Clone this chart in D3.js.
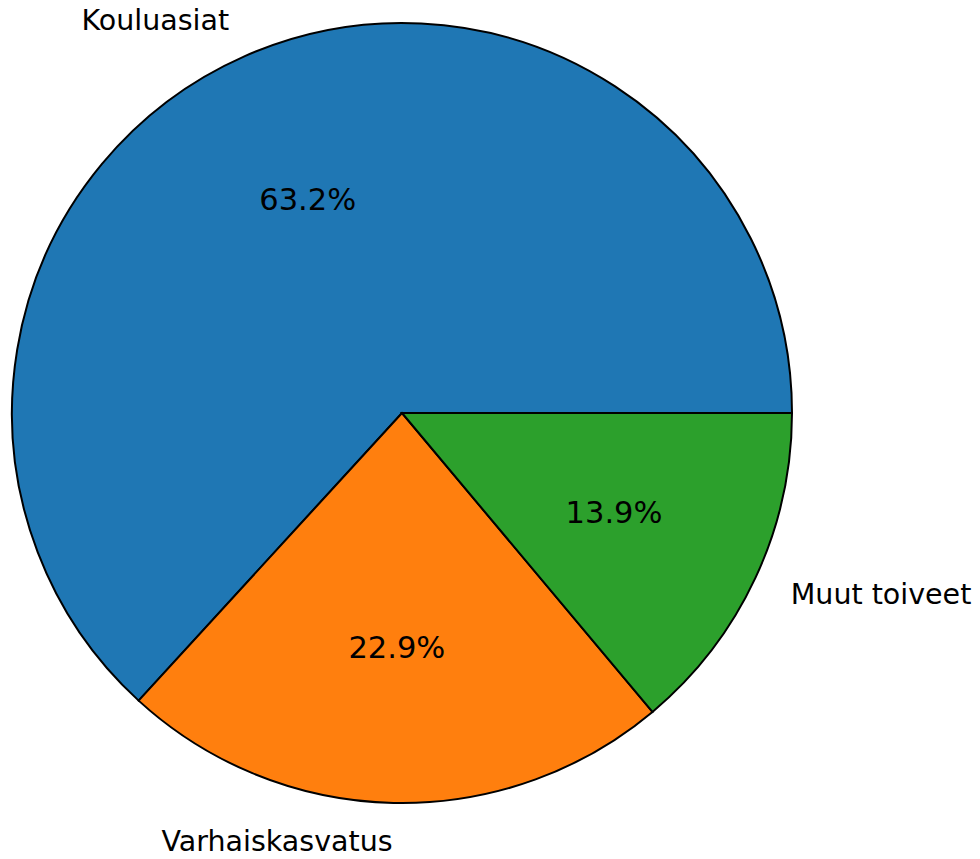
<!DOCTYPE html>
<html><head><meta charset="utf-8">
<script src="https://cdn.jsdelivr.net/npm/d3@7"></script>
<style>body{margin:0;background:#fff}svg{display:block}</style>
</head><body>
<svg id="chart" width="980" height="859"></svg>
<script>
const categories = ["Kouluasiat", "Varhaiskasvatus", "Muut toiveet"];
const values = [63.2, 22.9, 13.9];
const colors = ["#1f77b4", "#ff7f0e", "#2ca02c"];

const cx = 402, cy = 413, R = 390, fs = 28.5, pfs = 30.5;
const svg = d3.select("#chart");
const g = svg.append("g").attr("transform", `translate(${cx},${cy})`);

// matplotlib: start at 3 o'clock, counter-clockwise. d3 angles: 0 at 12 o'clock, clockwise.
const pie = d3.pie().value(d => d).sort(null)
  .startAngle(Math.PI / 2).endAngle(Math.PI / 2 - 2 * Math.PI);
const arcs = pie(values);
const arc = d3.arc().innerRadius(0).outerRadius(R);

g.selectAll("path").data(arcs).enter().append("path")
  .attr("d", arc)
  .attr("fill", (d, i) => colors[i])
  .attr("stroke", "#000").attr("stroke-width", 2).attr("stroke-linejoin", "miter");

function pos(d, r) {
  const a = (d.startAngle + d.endAngle) / 2; // d3 angle
  return [r * Math.sin(a), -r * Math.cos(a)];
}

g.selectAll("text.lab").data(arcs).enter().append("text")
  .attr("class", "lab")
  .each(function (d, i) {
    const [x, y] = pos(d, R * 1.1);
    d3.select(this).attr("x", x).attr("y", y)
      .attr("text-anchor", x < 0 ? "end" : "start")
      .attr("dominant-baseline", "central")
      .text(categories[i]);
  })
  .style("font-family", "DejaVu Sans").style("font-size", fs + "px").attr("fill", "#000");

g.selectAll("text.pct").data(arcs).enter().append("text")
  .attr("class", "pct")
  .each(function (d, i) {
    const [x, y] = pos(d, R * 0.6);
    d3.select(this).attr("x", x).attr("y", y + 1)
      .attr("text-anchor", "middle")
      .attr("dominant-baseline", "central")
      .text(values[i].toFixed(1) + "%");
  })
  .style("font-family", "DejaVu Sans").style("font-size", pfs + "px").attr("fill", "#000");
</script>
</body></html>
